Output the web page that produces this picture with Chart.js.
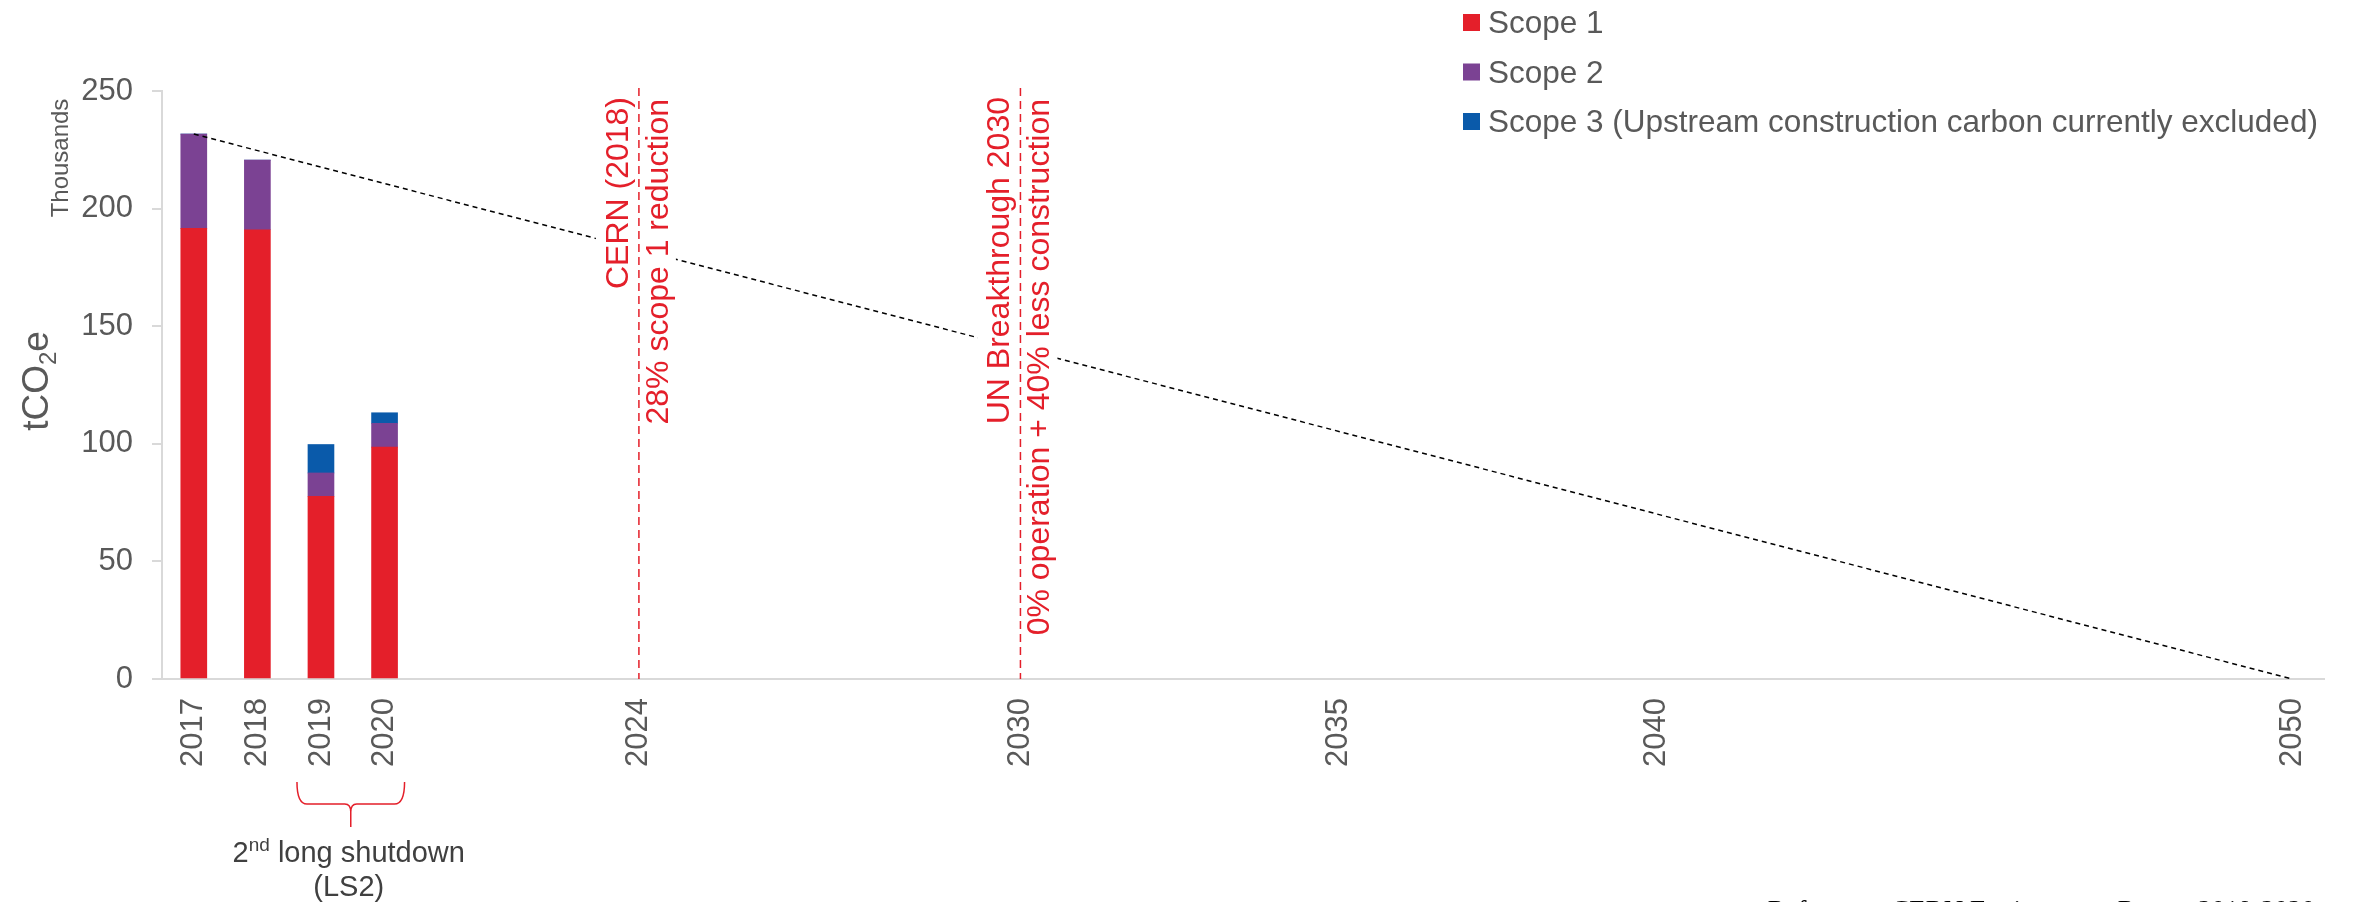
<!DOCTYPE html>
<html>
<head>
<meta charset="utf-8">
<script src="https://cdn.jsdelivr.net/npm/chart.js@4"></script>
<style>
  html, body { margin: 0; padding: 0; background: #fff; }
  canvas { display: block; }
</style>
</head>
<body>
<canvas id="emissionsChart" width="2354" height="902"></canvas>
<script>
const years = [2017, 2018, 2019, 2020]
const scope1 = [191.6, 191.0, 77.7, 98.6]
const scope2 = [40.1, 29.6, 9.9, 10.1]
const scope3 = [0, 0, 12.1, 4.5]
const tickYears = [2017, 2018, 2019, 2020, 2024, 2030, 2035, 2040, 2050]
const trendYears = [2017, 2050]
const trendValues = [231.7, 0]
const targetYears = [2024, 2030]
const targetTitles = ['CERN (2018)', 'UN Breakthrough 2030']
const targetDetails = ['28% scope 1 reduction', '0% operation + 40% less construction']
const shutdownYears = [2019, 2020]

const FONT = '"Liberation Sans", Arial, sans-serif'
const RED = '#e41f2a'
const GREY = '#595959'

const toPoints = (xs, ys) => xs.map((x, i) => ({ x: x, y: ys[i] }))

// vertical legend, axis titles and the red annotations are drawn by hand
const decorations = {
    id: 'decorations',
    afterDraw(chart) {
        const { ctx, chartArea } = chart
        const x = chart.scales.x
        ctx.save()

        // target lines with their labels
        targetYears.forEach((yr, i) => {
            const px = x.getPixelForValue(yr)
            ctx.font = '32px ' + FONT
            const w = Math.max(ctx.measureText(targetTitles[i]).width, ctx.measureText(targetDetails[i]).width)
            ctx.fillStyle = '#fff'
            ctx.fillRect(px - 43, chartArea.top + 2, 80, w + 10)

            ctx.strokeStyle = RED
            ctx.lineWidth = 1.5
            ctx.setLineDash([8, 5])
            ctx.beginPath()
            ctx.moveTo(px, chartArea.top - 3)
            ctx.lineTo(px, chartArea.bottom)
            ctx.stroke()
            ctx.setLineDash([])

            ctx.fillStyle = RED
            ctx.textAlign = 'right'
            ctx.textBaseline = 'alphabetic'
            ctx.save()
            ctx.translate(px - 11, chartArea.top + 6)
            ctx.rotate(-Math.PI / 2)
            ctx.fillText(targetTitles[i], 0, 0)
            ctx.restore()
            ctx.save()
            ctx.translate(px + 29, chartArea.top + 8)
            ctx.rotate(-Math.PI / 2)
            ctx.fillText(targetDetails[i], 0, 0)
            ctx.restore()
        })

        // legend
        chart.data.datasets.filter(d => d.type !== 'line').forEach((d, i) => {
            const base = 33 + i * 49.5
            ctx.fillStyle = d.backgroundColor
            ctx.fillRect(1463, base - 19, 17, 17)
            ctx.fillStyle = GREY
            ctx.font = '31.5px ' + FONT
            ctx.textAlign = 'left'
            ctx.textBaseline = 'alphabetic'
            ctx.fillText(d.legendText || d.label, 1488, base)
        })

        // y axis titles
        ctx.fillStyle = GREY
        ctx.save()
        ctx.translate(68, 158)
        ctx.rotate(-Math.PI / 2)
        ctx.font = '24px ' + FONT
        ctx.textAlign = 'center'
        ctx.fillText('Thousands', 0, 0)
        ctx.restore()

        ctx.save()
        ctx.translate(48, 381)
        ctx.rotate(-Math.PI / 2)
        ctx.textAlign = 'left'
        ctx.font = '37px ' + FONT
        const wA = ctx.measureText('tCO').width
        const wC = ctx.measureText('e').width
        ctx.font = '24px ' + FONT
        const wB = ctx.measureText('2').width
        let sx = -(wA + wB + wC) / 2
        ctx.font = '37px ' + FONT
        ctx.fillText('tCO', sx, 0)
        ctx.font = '24px ' + FONT
        ctx.fillText('2', sx + wA, 8)
        ctx.font = '37px ' + FONT
        ctx.fillText('e', sx + wA + wB, 0)
        ctx.restore()

        // shutdown brace
        const bx0 = x.getPixelForValue(shutdownYears[0]) - 24
        const bx1 = x.getPixelForValue(shutdownYears[1]) + 20
        const bm = (bx0 + bx1) / 2
        ctx.strokeStyle = RED
        ctx.lineWidth = 1.5
        ctx.beginPath()
        ctx.moveTo(bx0, 782)
        ctx.quadraticCurveTo(bx0, 804, bx0 + 10, 804)
        ctx.lineTo(bm - 6, 804)
        ctx.quadraticCurveTo(bm, 804, bm, 812)
        ctx.lineTo(bm, 827)
        ctx.moveTo(bm, 812)
        ctx.quadraticCurveTo(bm, 804, bm + 6, 804)
        ctx.lineTo(bx1 - 10, 804)
        ctx.quadraticCurveTo(bx1, 804, bx1, 782)
        ctx.stroke()

        ctx.fillStyle = '#404040'
        ctx.textAlign = 'left'
        ctx.font = '29px ' + FONT
        const p1 = '2', p3 = ' long shutdown'
        const w1 = ctx.measureText(p1).width
        const w3 = ctx.measureText(p3).width
        ctx.font = '19px ' + FONT
        const w2 = ctx.measureText('nd').width
        let tx = bm - 2 - (w1 + w2 + w3) / 2
        ctx.font = '29px ' + FONT
        ctx.fillText(p1, tx, 862)
        ctx.font = '19px ' + FONT
        ctx.fillText('nd', tx + w1, 851)
        ctx.font = '29px ' + FONT
        ctx.fillText(p3, tx + w1 + w2, 862)
        ctx.textAlign = 'center'
        ctx.fillText('(LS2)', bm - 2, 896)

        // source note, cut by the bottom edge
        ctx.fillStyle = '#000'
        ctx.textAlign = 'right'
        ctx.textBaseline = 'top'
        ctx.font = '27px "Liberation Serif", "Times New Roman", serif'
        ctx.fillText('Reference: CERN Environment Report 2019-2020', 2315, 898)

        ctx.restore()
    }
}

const chart = new Chart(document.getElementById('emissionsChart'), {
    type: 'bar',
    data: {
        datasets: [
            {
                label: 'Scope 1',
                data: toPoints(years, scope1),
                backgroundColor: '#e41f2a',
                stack: 'emissions',
                barThickness: 26,
                order: 2
            },
            {
                label: 'Scope 2',
                data: toPoints(years, scope2),
                backgroundColor: '#7b4293',
                stack: 'emissions',
                barThickness: 26,
                order: 2
            },
            {
                label: 'Scope 3',
                legendText: 'Scope 3 (Upstream construction carbon currently excluded)',
                data: toPoints(years, scope3),
                backgroundColor: '#0a5aaa',
                stack: 'emissions',
                barThickness: 26,
                order: 2
            },
            {
                type: 'line',
                label: 'Trajectory',
                data: toPoints(trendYears, trendValues),
                borderColor: '#000',
                borderWidth: 1.5,
                borderDash: [5, 4],
                pointRadius: 0,
                fill: false,
                order: 1
            }
        ]
    },
    options: {
        responsive: false,
        animation: false,
        devicePixelRatio: 1,
        layout: { padding: { top: 91, right: 30, left: 0, bottom: 0 } },
        plugins: {
            legend: { display: false },
            tooltip: { enabled: false }
        },
        scales: {
            x: {
                type: 'linear',
                min: 2016.5,
                max: 2050.5,
                offset: false,
                afterBuildTicks: scale => {
                    scale.ticks = tickYears.map(v => ({ value: v }))
                },
                afterFit: scale => { scale.height = 223 },
                grid: { display: true, drawOnChartArea: false, drawTicks: false, color: 'rgba(0,0,0,0)' },
                border: { display: true, color: '#d9d9d9', width: 2 },
                ticks: {
                    autoSkip: false,
                    minRotation: 90,
                    maxRotation: 90,
                    padding: 19,
                    color: GREY,
                    font: { family: FONT, size: 31 },
                    callback: v => String(v)
                }
            },
            y: {
                min: 0,
                max: 250,
                afterFit: scale => { scale.width = 162 },
                grid: { drawOnChartArea: false, drawTicks: true, tickLength: 10, color: '#d9d9d9', lineWidth: 2 },
                border: { display: true, color: '#d9d9d9', width: 2 },
                ticks: {
                    stepSize: 50,
                    padding: 19,
                    color: GREY,
                    font: { family: FONT, size: 31 }
                }
            }
        }
    },
    plugins: [decorations]
})
</script>
</body>
</html>
